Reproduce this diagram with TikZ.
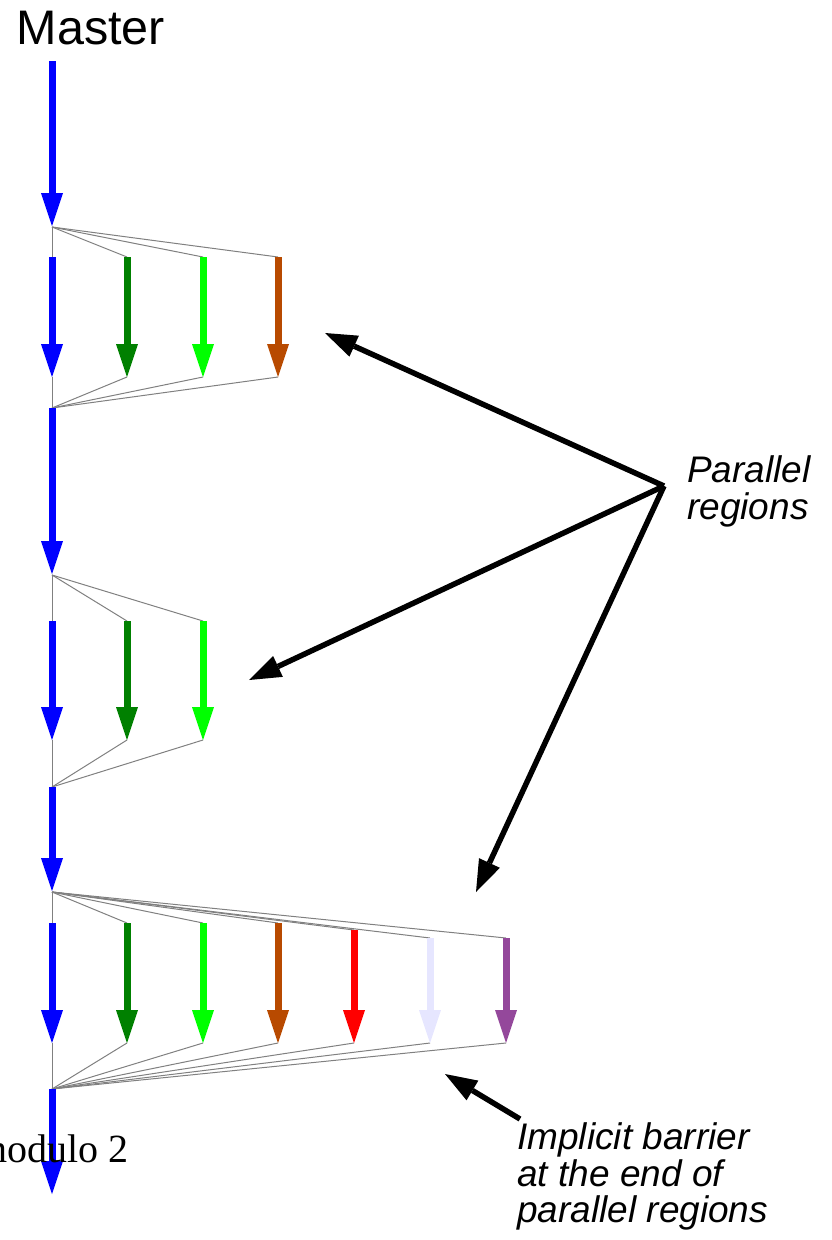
\documentclass[tikz,border=0pt]{standalone}
\usepackage{fontspec}
\setmainfont{Liberation Sans}
\newfontfamily\serifx{Liberation Serif}
\usetikzlibrary{arrows.meta}
\definecolor{cblue}{RGB}{0,0,255}
\definecolor{cgreen}{RGB}{0,128,0}
\definecolor{clime}{RGB}{0,255,0}
\definecolor{corange}{RGB}{184,74,0}
\definecolor{cred}{RGB}{255,0,0}
\definecolor{clav}{RGB}{230,230,255}
\definecolor{cpurple}{RGB}{148,72,155}
\definecolor{linkgray}{RGB}{128,128,128}
\begin{document}
\begin{tikzpicture}[x=1pt,y=-1pt,
  thread/.style={line width=7pt,-{Triangle[length=33pt 0 0,width=22pt 0 0,line width=0pt]}},
  link/.style={draw=linkgray,line width=1pt},
  note/.style={line width=5.5pt,-{Triangle[length=32pt 0 0,width=23pt 0 0,line width=0pt]}},
  lbl/.style={font=\fontsize{37}{37}\selectfont\itshape,anchor=base west,inner sep=0pt}]
\useasboundingbox (0,0) rectangle (831,1240);

% master title
\node[anchor=base west,inner sep=0pt,font=\fontsize{48.5}{56}\selectfont] (master) at (16.5,44) {Master};

% master thread segments
\coordinate (m0) at (52,61);
\coordinate (m0e) at (52,226);
\coordinate (f1) at (52,227);
\coordinate (j1) at (52,408);
\coordinate (f1e) at (52,574);
\coordinate (f2) at (52,575);
\coordinate (j2) at (52,787);
\coordinate (f2e) at (52,891);
\coordinate (f3) at (52,892);
\coordinate (j3) at (52,1089);
\coordinate (endm) at (52,1194);

% region 1
\foreach \i/\x in {0/52,1/127,2/203,3/278}{
  \coordinate (r1t\i) at (\x,257);
  \coordinate (r1b\i) at (\x,377);
  \draw[link] (f1) -- (r1t\i);
  \draw[link] (r1b\i) -- (j1);
}
% region 2
\foreach \i/\x in {0/52,1/127,2/203}{
  \coordinate (r2t\i) at (\x,621);
  \coordinate (r2b\i) at (\x,740);
  \draw[link] (f2) -- (r2t\i);
  \draw[link] (r2b\i) -- (j2);
}
% region 3
\foreach \i/\x/\y in {0/52/923,1/127/923,2/203/923,3/278/923,4/354/930,5/430/938,6/506/938}{
  \coordinate (r3t\i) at (\x,\y);
  \coordinate (r3b\i) at (\x,1043);
  \draw[link] (f3) -- (r3t\i);
  \draw[link] (r3b\i) -- (j3);
}

% threads
\draw[thread,color=cblue] (m0) -- (m0e);
\foreach \i/\c in {0/cblue,1/cgreen,2/clime,3/corange}{
  \draw[thread,color=\c] (r1t\i) -- (r1b\i);
}
\draw[thread,color=cblue] (j1) -- (f1e);
\foreach \i/\c in {0/cblue,1/cgreen,2/clime}{
  \draw[thread,color=\c] (r2t\i) -- (r2b\i);
}
\draw[thread,color=cblue] (j2) -- (f2e);
\foreach \i/\c in {0/cblue,1/cgreen,2/clime,3/corange,4/cred,5/clav,6/cpurple}{
  \draw[thread,color=\c] (r3t\i) -- (r3b\i);
}
\draw[thread,color=cblue] (j3) -- (endm);

% modulo label
\node[anchor=base east,inner sep=0pt,font=\serifx\fontsize{40}{46}\selectfont] (modulo) at (129,1162) {modulo 2};

% annotations
\node[lbl] (par1) at (687,482) {Parallel};
\node[lbl] (par2) at (687,519) {regions};
\coordinate (src) at (664,486);
\coordinate (n1) at (325,333);
\coordinate (n2) at (249,680);
\coordinate (n3) at (476,892);
\draw[note] (src) -- (n1);
\draw[note] (src) -- (n2);
\draw[note] (src) -- (n3);

\node[lbl] (imp1) at (517,1149) {Implicit barrier};
\node[lbl] (imp2) at (517,1186) {at the end of};
\node[lbl] (imp3) at (517,1222) {parallel regions};
\coordinate (bsrc) at (520,1119);
\coordinate (btip) at (445,1074);
\draw[note] (bsrc) -- (btip);
\end{tikzpicture}
\end{document}
